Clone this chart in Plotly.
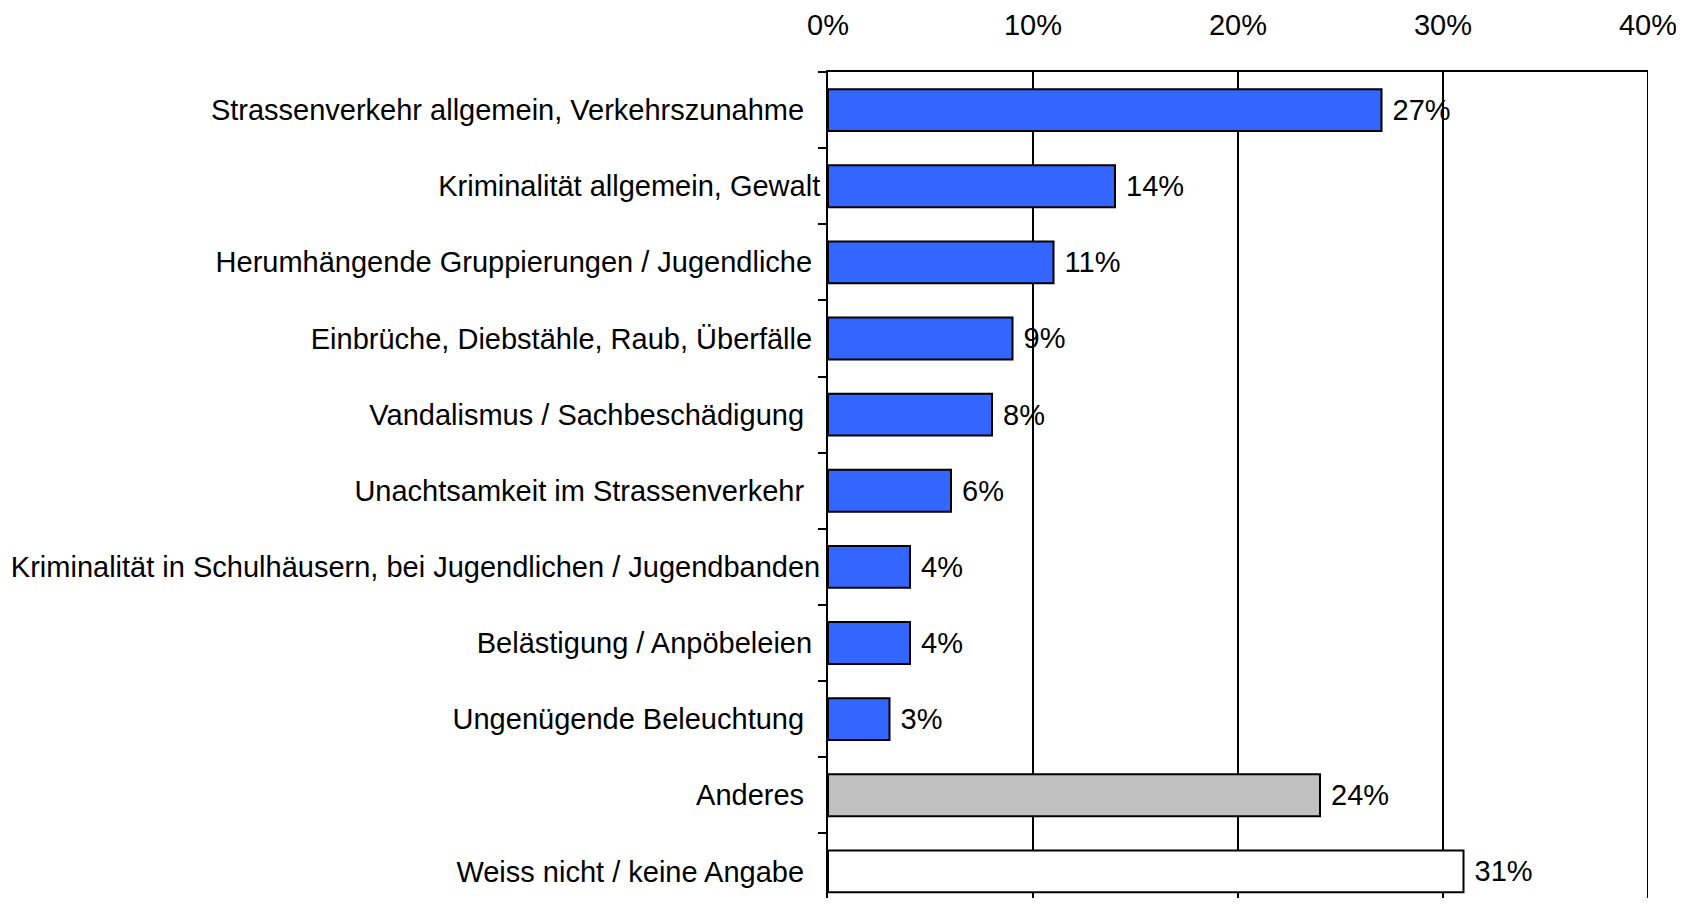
import plotly.graph_objects as go

categories = [
    "Strassenverkehr allgemein, Verkehrszunahme",
    "Kriminalität allgemein, Gewalt",
    "Herumhängende Gruppierungen / Jugendliche",
    "Einbrüche, Diebstähle, Raub, Überfälle",
    "Vandalismus / Sachbeschädigung",
    "Unachtsamkeit im Strassenverkehr",
    "Kriminalität in Schulhäusern, bei Jugendlichen / Jugendbanden",
    "Belästigung / Anpöbeleien",
    "Ungenügende Beleuchtung",
    "Anderes",
    "Weiss nicht / keine Angabe",
]
values = [27, 14, 11, 9, 8, 6, 4, 4, 3, 24, 31]
label_pad = [2, 0, 1, 1, 2, 2, 0, 1, 2, 2, 2]
bar_colors = ["#3366FF"] * 9 + ["#C0C0C0", "#FFFFFF"]
x_ticks = [0, 10, 20, 30, 40]

FONT = "Liberation Sans, Arial, sans-serif"
FS = 29

ticktext = [c + "\u00a0" * p for c, p in zip(categories, label_pad)]

fig = go.Figure()
fig.add_trace(go.Bar(
    y=categories,
    x=values,
    orientation="h",
    width=0.55,
    marker=dict(color=bar_colors, line=dict(color="black", width=2)),
    text=[f"\u00a0{v}%" for v in values],
    textposition="outside",
    textfont=dict(family=FONT, size=FS, color="black"),
    constraintext="none",
    cliponaxis=False,
))

fig.update_layout(
    width=1668, height=890,
    margin=dict(l=820, r=28, t=64, b=0),
    paper_bgcolor="white", plot_bgcolor="white",
    font=dict(family=FONT, size=FS, color="black"),
    showlegend=False,
    shapes=[dict(type="line", xref="x", yref="paper", x0=40, x1=40, y0=0, y1=1,
                 line=dict(color="black", width=2))],
)
fig.update_xaxes(
    side="top", range=[0, 40], tickvals=x_ticks,
    ticktext=[f"{t}%" for t in x_ticks],
    showgrid=True, gridcolor="black", gridwidth=1.5,
    showline=True, linecolor="black", linewidth=2,
    zeroline=False, ticks="", ticklabelstandoff=23, automargin=False,
    ticklabeloverflow="allow",
    tickfont=dict(family=FONT, size=FS, color="black"),
)
fig.update_yaxes(
    type="category", categoryorder="array", categoryarray=categories,
    range=[10.35, -0.5], autorange=False,
    tickvals=categories, ticktext=ticktext,
    showline=True, linecolor="black", linewidth=2,
    ticks="outside", tickson="boundaries", ticklen=8, tickwidth=2, tickcolor="black",
    showgrid=False, zeroline=False, automargin=False,
    tickfont=dict(family=FONT, size=FS, color="black"),
)

fig.write_html("out.html")
